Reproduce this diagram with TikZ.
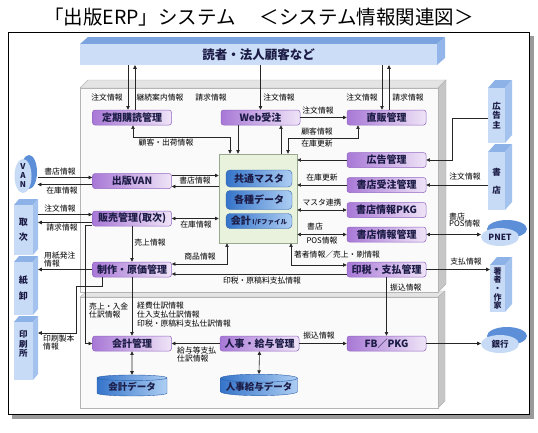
\documentclass[tikz,border=0pt]{standalone}
\usepackage{fontspec}
\setmainfont{Noto Sans CJK JP}
\usepackage{tikz}
\usetikzlibrary{arrows.meta,positioning,shapes.geometric}

\definecolor{framegray}{HTML}{9A9A9A}
\definecolor{barfront}{HTML}{CCDEF7}
\definecolor{bartop}{HTML}{7BA3DF}
\definecolor{barside}{HTML}{93B5E9}
\definecolor{panelface}{HTML}{FAFAFA}
\definecolor{paneltop}{HTML}{E4E4E4}
\definecolor{panelside}{HTML}{C6C6C6}
\definecolor{paneledge}{HTML}{B4B4B4}
\definecolor{boxleft}{HTML}{A878D6}
\definecolor{boxright}{HTML}{EFE4F7}
\definecolor{boxedge}{HTML}{9468C4}
\definecolor{boxtext}{HTML}{1B1B45}
\definecolor{hubfill}{HTML}{E8F2DC}
\definecolor{hubedge}{HTML}{98A890}
\definecolor{dbleft}{HTML}{3574CA}
\definecolor{dbright}{HTML}{ADCEF3}
\definecolor{dbedge}{HTML}{2A5EA8}
\definecolor{extfront}{HTML}{C7DBF6}
\definecolor{exttop}{HTML}{8DB2E8}
\definecolor{extside}{HTML}{A3C2EE}
\definecolor{diskback}{HTML}{5C8FD8}
\definecolor{wirecol}{HTML}{262626}

\begin{document}
\begin{tikzpicture}[x=1pt,y=-1pt,
    >={Triangle[length=3.6pt,width=3.4pt]},
    proc/.style={rectangle,rounded corners=2.5pt,draw=boxedge,line width=0.5pt,
      left color=boxleft,right color=boxright,minimum width=79pt,minimum height=15pt,
      inner sep=0pt,text=boxtext,font=\fontsize{10}{10}\selectfont\bfseries},
    store/.style={rectangle,rounded corners=4pt,draw=dbedge,line width=0.4pt,
      left color=dbleft,right color=dbright,minimum width=66pt,inner sep=0pt,
      text=boxtext,font=\fontsize{10}{10}\selectfont\bfseries},
    db/.style={cylinder,shape border rotate=90,aspect=0.12,draw=dbedge,line width=0.4pt,
      left color=dbleft,right color=dbright,inner sep=0pt,minimum height=21pt,
      text=boxtext,font=\fontsize{9.5}{10}\selectfont\bfseries},
    hub/.style={rectangle,fill=hubfill,draw=hubedge,line width=0.5pt,
      minimum width=78pt,minimum height=89pt},
    ent/.style={rectangle,fill=extfront,inner sep=0pt,align=center,text=boxtext,
      font=\fontsize{8.5}{9.5}\selectfont\bfseries},
    disk/.style={ellipse,fill=extfront,inner sep=0pt,text=boxtext,
      font=\fontsize{8.5}{9}\selectfont\bfseries},
    info/.style={inner sep=0pt,align=left,font=\fontsize{7.8}{7.8}\selectfont},
    flow/.style={draw=wirecol,line width=0.6pt,->},
    flow2/.style={draw=wirecol,line width=0.6pt,<->}]
\useasboundingbox (0,0) rectangle (538,432);

% title and frame
\node[font=\fontsize{19.5}{20}\selectfont] (title) at (259,17)
  {「出版ERP」システム\hspace{24pt}＜システム情報関連図＞};
\fill[framegray] (12,414) rectangle (534,419);
\fill[framegray] (529,36) rectangle (534,419);
\filldraw[fill=white,draw=black,line width=0.8pt] (8,32) rectangle (529,414);

% top bar
\fill[bartop] (80,44) -- (88,37) -- (445,37) -- (437,44) -- cycle;
\fill[barside] (437,44) -- (445,37) -- (445,58) -- (437,65) -- cycle;
\node[fill=barfront,minimum width=357pt,minimum height=21pt,inner sep=0pt,
  text=boxtext,font=\fontsize{12.5}{13}\selectfont\bfseries] (reader) at (258.5,54.5) {読者・法人顧客など};

% panels
\filldraw[fill=paneltop,draw=paneledge,line width=0.4pt] (80,297) -- (87,291) -- (445,291) -- (438,297) -- cycle;
\filldraw[fill=panelside,draw=paneledge,line width=0.4pt] (438,297) -- (445,291) -- (445,401) -- (438,408) -- cycle;
\filldraw[fill=panelface,draw=paneledge,line width=0.4pt] (80,297) rectangle (438,408);
\filldraw[fill=paneltop,draw=paneledge,line width=0.4pt] (80,88) -- (88,80) -- (446,80) -- (438,88) -- cycle;
\filldraw[fill=panelside,draw=paneledge,line width=0.4pt] (438,88) -- (446,80) -- (446,284) -- (438,292) -- cycle;
\filldraw[fill=panelface,draw=paneledge,line width=0.4pt] (80,88) rectangle (438,292);

% hub
\node[hub] (hub) at (258,198.5) {};
\node[store,minimum height=17pt] (master) at (259,178.5) {共通マスタ};
\node[store,minimum height=19pt] (kinds) at (259,200) {各種データ};
\node[store,minimum height=15pt] (ifile) at (259,221) {会計\,{\fontsize{6.5}{7}\selectfont I/Fファイル}};

% processes
\node[proc] (teiki) at (132,117.5) {定期購読管理};
\node[proc] (web) at (260.5,117.5) {Web受注};
\node[proc] (chokuhan) at (386.5,117.5) {直販管理};
\node[proc] (koukoku) at (386.5,160) {広告管理};
\node[proc] (shoten) at (386.5,185) {書店受注管理};
\node[proc] (spkg) at (386.5,210) {書店情報PKG};
\node[proc] (sinfo) at (386.5,234.5) {書店情報管理};
\node[proc] (inzei) at (386.5,269.5) {印税・支払管理};
\node[proc] (van) at (132,181) {出版VAN};
\node[proc] (hanbai) at (132,218.5) {販売管理(取次)};
\node[proc] (seisaku) at (132,269.5) {制作・原価管理};
\node[proc] (kaikei) at (132,343.5) {会計管理};
\node[proc] (jinji) at (259.5,343.5) {人事・給与管理};
\node[proc] (fb) at (386.5,343.5) {FB／PKG};

% data stores
\node[db,minimum width=70pt] (acctdb) at (132,387) {会計データ};
\node[db,minimum width=77pt] (hrdb) at (259,387) {人事給与データ};

% left partners
\fill[diskback] (29,172) ellipse (8 and 17);
\node[disk,minimum width=17pt,minimum height=34pt,align=center,font=\fontsize{8}{9}\selectfont\bfseries] (vanext) at (23,176) {V\\A\\N};
\fill[exttop] (14,205) -- (19,199) -- (38,199) -- (33,205) -- cycle;
\fill[extside] (33,205) -- (38,199) -- (38,249) -- (33,255) -- cycle;
\node[ent,minimum width=19pt,minimum height=50pt,font=\fontsize{9}{9}\selectfont\bfseries] (tori) at (23.5,230) {取\\[6pt]次};
\fill[exttop] (14,262) -- (19,256) -- (38,256) -- (33,262) -- cycle;
\fill[extside] (33,262) -- (38,256) -- (38,309) -- (33,315) -- cycle;
\node[ent,minimum width=19pt,minimum height=53pt,font=\fontsize{9}{9}\selectfont\bfseries] (kami) at (23.5,288.5) {紙\\[7pt]卸};
\fill[exttop] (14,322) -- (19,316) -- (38,316) -- (33,322) -- cycle;
\fill[extside] (33,322) -- (38,316) -- (38,374) -- (33,380) -- cycle;
\fill[extfront] (14,365) rectangle (33,380);
\node[ent,minimum width=19pt,minimum height=44pt] (insatsu) at (23.5,344) {印\\刷\\所};

% right partners
\fill[exttop] (488,88) -- (495,80) -- (512,80) -- (505,88) -- cycle;
\fill[extside] (505,88) -- (512,80) -- (512,135) -- (505,143) -- cycle;
\node[ent,minimum width=17pt,minimum height=55pt] (kokokunushi) at (496.5,115.5) {広\\告\\主};
\fill[exttop] (488,152) -- (495,144) -- (512,144) -- (505,152) -- cycle;
\fill[extside] (505,152) -- (512,144) -- (512,202) -- (505,210) -- cycle;
\node[ent,minimum width=17pt,minimum height=58pt] (shotenent) at (496.5,181) {書\\[9pt]店};
\fill[diskback] (507,229) ellipse (20 and 9);
\node[disk,minimum width=38pt,minimum height=18pt] (pnet) at (500,237) {PNET};
\fill[exttop] (490,265) -- (497,257) -- (512,257) -- (505,265) -- cycle;
\fill[extside] (505,265) -- (512,257) -- (512,304) -- (505,312) -- cycle;
\node[ent,minimum width=15pt,minimum height=47pt,font=\fontsize{8}{8.7}\selectfont\bfseries] (author) at (497.5,288.5) {著\\者\\・\\作\\家};
\fill[diskback] (507,336) ellipse (20 and 9);
\node[disk,minimum width=38pt,minimum height=18pt] (bank) at (500,344) {銀行};

% connectors
\draw[flow] (reader.south -| 128,0) -- (teiki.north -| 128,0);
\draw[flow] (teiki.north -| 135,0) -- (reader.south -| 135,0);
\draw[flow] (reader.south -| web.north) -- (web.north);
\draw[flow] (reader.south -| 382,0) -- (chokuhan.north -| 382,0);
\draw[flow] (chokuhan.north -| 389,0) -- (reader.south -| 389,0);
\draw[flow] (web.east) -- (chokuhan.west);
\draw[flow2] (teiki.south -| 133,0) |- (230,137) -- (hub.north -| 230,0);
\draw[flow] (web.south -| 238,0) -- (hub.north -| 238,0);
\draw[flow] (hub.north -| 281,0) -- (web.south -| 281,0);
\draw[flow2] (hub.north -| 288,0) |- (358,138) -- (chokuhan.south -| 358,0);
\draw[flow] (koukoku.west) -- (hub.east |- koukoku.west);
\draw[flow] (shoten.west) -- (hub.east |- shoten.west);
\draw[flow2] (spkg.west) -- (hub.east |- spkg.west);
\draw[flow2] (sinfo.west) -- (hub.east |- sinfo.west);
\draw[flow2] (sinfo.east) -- (pnet.west |- sinfo.east);
\draw[flow] (kokokunushi.west |- 0,118) -| (452,160) -- (koukoku.east);
\draw[flow] (shotenent.west |- shoten.east) -- (shoten.east);
\draw[flow2] (hub.south -| 291,0) |- (inzei.west |- 0,265);
\draw[flow2] (hub.south -| 227,0) |- (seisaku.east |- 0,264);
\draw[flow] (inzei.west |- 0,274) -- (seisaku.east |- 0,274);
\draw[flow] (inzei.east) -- (author.west |- inzei.east);
\draw[flow] (inzei.south) -- (fb.north);
\draw[flow] (fb.east) -- (bank.west |- fb.east);
\draw[flow] (jinji.east) -- (fb.west);
\draw[flow] (jinji.west) -- (kaikei.east);
\draw[flow2] (kaikei.south) -- (acctdb.north);
\draw[flow2] (jinji.south) -- (hrdb.north);
\draw[flow] (seisaku.south) -- (kaikei.north);
\draw[flow] (hanbai.south) -- (seisaku.north);
\draw[flow] (hanbai.west |- 0,225) -| (85,343.5) -- (kaikei.west);
\draw[flow] ([xshift=6pt]vanext.east |- 0,177.5) -- (van.west |- 0,177.5);
\draw[flow] (van.west |- 0,184.5) -- ([xshift=6pt]vanext.east |- 0,184.5);
\draw[flow] (van.east |- 0,175.5) -- (hub.west |- 0,175.5);
\draw[flow] (hub.west |- 0,186.5) -- (van.east |- 0,186.5);
\draw[flow] ([xshift=5pt]tori.east |- 0,214.5) -- (hanbai.west |- 0,214.5);
\draw[flow] (hanbai.west |- 0,222.5) -- ([xshift=5pt]tori.east |- 0,222.5);
\draw[flow2] (hanbai.east) -- (hub.west |- hanbai.east);
\draw[flow] (seisaku.west) -- ([xshift=5pt]kami.east |- seisaku.west);
\draw[flow] (seisaku.south -| 102,0) |- (76,286) |- ([xshift=5pt]insatsu.east |- 0,333);

% labels
\node[info] (i1) at (107,98) {注文情報};
\node[info] (i2) at (160,98) {継続案内情報};
\node[info] (i3) at (211,98) {請求情報};
\node[info] (i4) at (279,98) {注文情報};
\node[info] (i5) at (362,98) {注文情報};
\node[info] (i6) at (408,98) {請求情報};
\node[info] (i7) at (318,111) {注文情報};
\node[info] (i8) at (166,143) {顧客・出荷情報};
\node[info] (i9) at (317,131.5) {顧客情報};
\node[info] (i10) at (317,144) {在庫更新};
\node[info] (i11) at (60,171.5) {書店情報};
\node[info] (i12) at (62,190.5) {在庫情報};
\node[info] (i13) at (195,181) {書店情報};
\node[info] (i14) at (322,178) {在庫更新};
\node[info] (i15) at (322,203) {マスタ連携};
\node[info,anchor=west] (i16) at (307,227) {書店};
\node[info] (i17) at (322,240.5) {POS情報};
\node[info] (i18) at (60,208.5) {注文情報};
\node[info] (i19) at (62,228) {請求情報};
\node[info] (i20) at (196,224.5) {在庫情報};
\node[info] (i21) at (150,243) {売上情報};
\node[info] (i22) at (200,257) {商品情報};
\node[info] (i23) at (337,254.5) {著者情報／売上・刷情報};
\node[info] (i24) at (262,281) {印税・原稿料支払情報};
\node[info,anchor=west] (i25) at (44,259.5) {用紙発注\\情報};
\node[info,anchor=west] (i26) at (449,220) {書店\\POS情報};
\node[info] (i27) at (465,177) {注文情報};
\node[info] (i28) at (466,262) {支払情報};
\node[info,anchor=west] (i29) at (390,288) {振込情報};
\node[info,anchor=west] (i30) at (89,310.5) {売上・入金\\仕訳情報};
\node[info,anchor=west,font=\fontsize{7.8}{9}\selectfont] (i31) at (137,315) {経費仕訳情報\\仕入支払仕訳情報\\印税・原稿料支払仕訳情報};
\node[info] (i32) at (319,336) {振込情報};
\node[info,anchor=west] (i33) at (177,354.5) {給与等支払\\仕訳情報};
\node[info,anchor=west] (i34) at (43,342.5) {印刷製本\\情報};
\end{tikzpicture}
\end{document}
